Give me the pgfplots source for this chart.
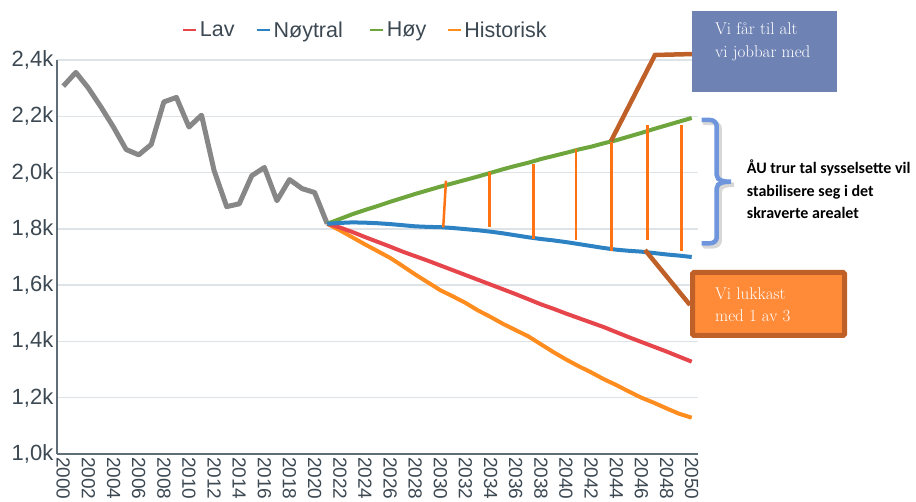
\documentclass[border=0pt]{standalone}
\usepackage{fontspec}
\usepackage{pgfplots}
\pgfplotsset{compat=1.18}
\newfontfamily\arialfont{Liberation Sans}
\newfontfamily\calibri{Carlito}
\definecolor{textgray}{RGB}{60,72,82}
\definecolor{axisgray}{RGB}{96,110,120}
\definecolor{gridgray}{RGB}{222,227,232}
\definecolor{histgray}{RGB}{135,135,135}
\definecolor{lavred}{RGB}{230,70,75}
\definecolor{noyblue}{RGB}{45,130,195}
\definecolor{hoygreen}{RGB}{110,165,60}
\definecolor{historange}{RGB}{255,140,30}
\definecolor{vlineorange}{RGB}{255,115,20}
\definecolor{connbrown}{RGB}{190,96,40}
\definecolor{boxblue}{RGB}{110,130,180}
\definecolor{boxorange}{RGB}{255,138,55}
\definecolor{braceblue}{RGB}{111,150,220}
\begin{document}
\begin{tikzpicture}[x=1pt,y=1pt]
\useasboundingbox (0,0) rectangle (916,501);
\begin{axis}[
  at={(57pt,47pt)}, anchor=south west,
  scale only axis, width=641pt, height=394pt,
  xmin=1999.5, xmax=2050.5, ymin=1000, ymax=2400,
  axis x line*=bottom, axis y line*=left,
  axis line style={-, line width=2pt, draw=axisgray},
  ymajorgrids, grid style={line width=1.5pt, draw=gridgray},
  major tick length=0pt,
  xtick={2000,2002,...,2050},
  ytick={1000,1200,...,2400},
  yticklabels={{1,0k},{1,2k},{1,4k},{1,6k},{1,8k},{2,0k},{2,2k},{2,4k}},
  /pgf/number format/1000 sep={},
  /pgf/number format/assume math mode=true,
  yticklabel style={font=\arialfont\fontsize{22}{26}\selectfont, text=textgray, inner xsep=3.5pt},
  xticklabel style={font=\arialfont\fontsize{19}{22}\selectfont, text=textgray, rotate=-90, anchor=west, inner sep=3pt},
  clip=false,
  legend columns=4,
  legend image code/.code={\draw[#1, line width=2.5pt] (0pt,0pt) -- (13pt,0pt);},
  legend style={at={(axis description cs:0.1946,1.0761)}, anchor=west, draw=none, fill=none, inner sep=0pt,
    font=\arialfont\fontsize{21.5}{25}\selectfont, text=textgray,
    nodes={inner xsep=2.5pt, inner ysep=0pt},
    column sep=0pt},
  legend cell align=left,
]
% historical
\addplot[histgray, line width=5pt, line join=round, forget plot] coordinates {
(2000,2307) (2001,2356) (2002,2300) (2003,2233) (2004,2161) (2005,2082)
(2006,2063) (2007,2100) (2008,2251) (2009,2267) (2010,2162) (2011,2204)
(2012,2007) (2013,1879) (2014,1889) (2015,1989) (2016,2018) (2017,1900)
(2018,1975) (2019,1943) (2020,1929) (2021,1818)};
% Historisk projection
\addplot[historange, line width=4pt, line join=round, forget plot] coordinates {
(2021,1818) (2022,1795) (2023,1770) (2024,1745) (2025,1721) (2026,1697)
(2027,1668) (2028,1638) (2029,1610) (2030,1582) (2031,1560) (2032,1537)
(2033,1510) (2034,1487) (2035,1462) (2036,1440) (2037,1418) (2038,1390)
(2039,1362) (2040,1336) (2041,1312) (2042,1290) (2043,1266) (2044,1245)
(2045,1222) (2046,1200) (2047,1182) (2048,1162) (2049,1143) (2050,1129)};
% Lav
\addplot[lavred, line width=4pt, line join=round, forget plot] coordinates {
(2021,1818) (2022,1805) (2023,1789) (2024,1771) (2025,1754) (2026,1737)
(2027,1719) (2028,1703) (2029,1687) (2030,1670) (2031,1653) (2032,1636)
(2033,1619) (2034,1602) (2035,1585) (2036,1568) (2037,1550) (2038,1532)
(2039,1516) (2040,1499) (2041,1483) (2042,1467) (2043,1451) (2044,1433)
(2045,1415) (2046,1398) (2047,1381) (2048,1364) (2049,1346) (2050,1328)};
% Hoy
\addplot[hoygreen, line width=4pt, line join=round, forget plot] coordinates {
(2021,1818) (2022,1835) (2023,1852) (2024,1867) (2025,1881) (2026,1896)
(2027,1910) (2028,1924) (2029,1937) (2030,1950) (2031,1962) (2032,1974)
(2033,1986) (2034,1999) (2035,2012) (2036,2024) (2037,2035) (2038,2048)
(2039,2059) (2040,2070) (2041,2082) (2042,2092) (2043,2104) (2044,2115)
(2045,2128) (2046,2141) (2047,2155) (2048,2168) (2049,2181) (2050,2194)};
% Noytral
\addplot[noyblue, line width=4pt, line join=round, forget plot] coordinates {
(2021,1818) (2022,1821) (2023,1823) (2024,1822) (2025,1820) (2026,1817)
(2027,1813) (2028,1809) (2029,1807) (2030,1806) (2031,1803) (2032,1799)
(2033,1795) (2034,1790) (2035,1784) (2036,1777) (2037,1770) (2038,1764)
(2039,1759) (2040,1753) (2041,1746) (2042,1739) (2043,1732) (2044,1726)
(2045,1722) (2046,1719) (2047,1714) (2048,1709) (2049,1705) (2050,1700)};
% orange vertical hatch lines
\addplot[vlineorange, line width=2.5pt, forget plot] coordinates {(2030.45,1971) (2030.23,1805)};
\addplot[vlineorange, line width=2.5pt, forget plot] coordinates {(2033.9,2001) (2033.9,1805)};
\addplot[vlineorange, line width=2.5pt, forget plot] coordinates {(2037.4,2029) (2037.4,1763)};
\addplot[vlineorange, line width=2.5pt, forget plot] coordinates {(2040.8,2085) (2040.8,1760)};
\addplot[vlineorange, line width=2.5pt, forget plot] coordinates {(2043.6,2108) (2043.6,1721)};
\addplot[vlineorange, line width=2.5pt, forget plot] coordinates {(2046.5,2168) (2046.5,1760)};
\addplot[vlineorange, line width=2.5pt, forget plot] coordinates {(2049.2,2168) (2049.2,1721)};
% legend
\addlegendimage{lavred}\addlegendentry{Lav\hspace*{18.5pt}}
\addlegendimage{noyblue}\addlegendentry{Nøytral\hspace*{23.5pt}}
\addlegendimage{hoygreen}\addlegendentry{Høy\hspace*{17.5pt}}
\addlegendimage{historange}\addlegendentry{Historisk}
\end{axis}
% connectors
\draw[connbrown, line width=4.5pt] (611,360) -- (655,446) -- (694,447);
\draw[connbrown, line width=4.5pt] (645,251) -- (690,196);
% blue box
\fill[boxblue] (692.3,409.3) rectangle (836.7,490);
\node[anchor=base west, inner sep=0pt, text=white, font=\fontsize{17}{20}\selectfont] at (715,466) {Vi får til alt};
\node[anchor=base west, inner sep=0pt, text=white, font=\fontsize{17}{20}\selectfont] at (715,443) {vi jobbar med};
% orange box
\draw[connbrown, fill=boxorange, line width=5pt, rounded corners=1.5pt] (692.5,165.5) rectangle (844.5,228.5);
\node[anchor=base west, inner sep=0pt, text=white, font=\fontsize{17}{20}\selectfont] at (715,201) {Vi lukkast};
\node[anchor=base west, inner sep=0pt, text=white, font=\fontsize{17}{20}\selectfont] at (715,179.3) {med 1 av 3};
% brace with shadow
\draw[black!45, opacity=0.35, line width=4.5pt, line cap=round] (704.7,378) -- (713,378) to[out=0,in=90] (719.7,372) -- (719.7,323) to[out=-90,in=180] (734,316.3) to[out=180,in=90] (719.7,309.6) -- (719.7,260.5) to[out=-90,in=0] (713,254.7) -- (704.7,254.7);
\draw[braceblue, line width=4.5pt] (701.7,381) -- (710,381) to[out=0,in=90] (716.7,375) -- (716.7,326) to[out=-90,in=180] (731,319.3) to[out=180,in=90] (716.7,312.6) -- (716.7,263.5) to[out=-90,in=0] (710,257.7) -- (701.7,257.7);
% bold text
\node[anchor=base west, inner sep=0pt, font=\calibri\bfseries\fontsize{16}{19}\selectfont] at (746.7,327.7) {ÅU trur tal sysselsette vil};
\node[anchor=base west, inner sep=0pt, font=\calibri\bfseries\fontsize{16}{19}\selectfont] at (746.7,304.3) {stabilisere seg i det};
\node[anchor=base west, inner sep=0pt, font=\calibri\bfseries\fontsize{16}{19}\selectfont] at (746.7,282.7) {skraverte arealet};
\end{tikzpicture}
\end{document}
